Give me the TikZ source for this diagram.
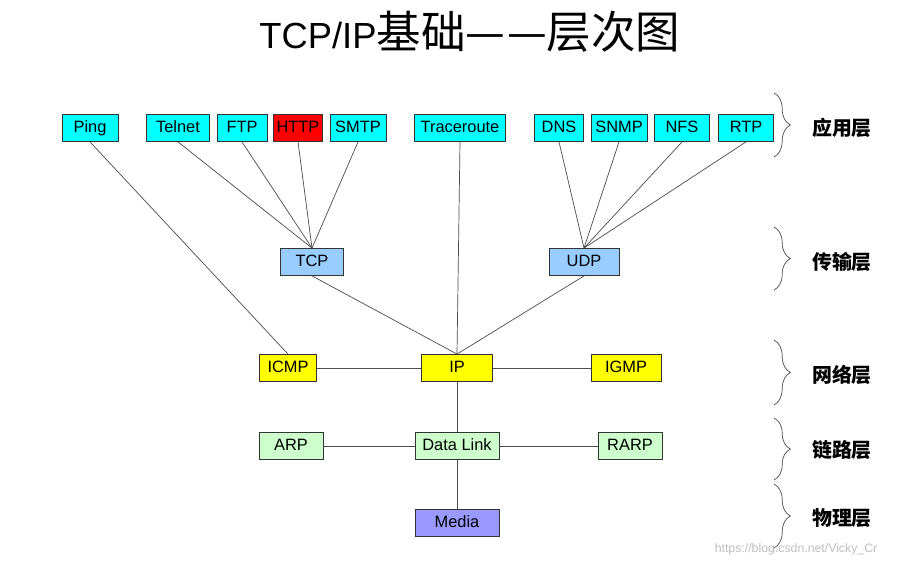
\documentclass[tikz,border=0pt]{standalone}
\usepackage{fontspec}
\setmainfont{Liberation Sans}
\newfontfamily\cjk{Noto Sans CJK SC}
\usetikzlibrary{decorations.pathreplacing}
\definecolor{appcyan}{RGB}{0,255,255}
\definecolor{httpred}{RGB}{255,0,0}
\definecolor{tpblue}{RGB}{153,204,255}
\definecolor{ipyellow}{RGB}{255,255,0}
\definecolor{linkgreen}{RGB}{204,255,204}
\definecolor{mediablue}{RGB}{153,153,255}
\begin{document}
\begin{tikzpicture}[x=0.03cm,y=-0.03cm,
    proto/.style={draw=black!80, line width=0.7pt, inner sep=0pt, minimum height=0.81cm,
      text height=0.72em, text depth=0pt,
      font=\fontsize{14}{16}\selectfont},
    link/.style={draw=black!70, line width=0.6pt},
    layerbrace/.style={draw=black!70, line width=0.6pt, decorate,
      decoration={brace, amplitude=14pt, aspect=0.5}},
    layername/.style={font=\cjk\fontsize{17}{19}\selectfont\bfseries}]
    \useasboundingbox[fill=white] (0,0) rectangle (908,567);
    % title
    \node (title) at (470,32) {\fontsize{31}{34}\selectfont TCP/IP{\cjk\fontsize{38}{40}\selectfont 基础—\kern0.04em—层次图}};

    % application layer
    \node[proto, fill=appcyan, minimum width=1.68cm] (ping) at (90,128) {Ping};
    \node[proto, fill=appcyan, minimum width=1.89cm] (telnet) at (178,128) {Telnet};
    \node[proto, fill=appcyan, minimum width=1.50cm] (ftp) at (242,128) {FTP};
    \node[proto, fill=httpred, minimum width=1.47cm] (http) at (298,128) {HTTP};
    \node[proto, fill=appcyan, minimum width=1.68cm] (smtp) at (358,128) {SMTP};
    \node[proto, fill=appcyan, minimum width=2.73cm] (trace) at (460,128) {Traceroute};
    \node[proto, fill=appcyan, minimum width=1.47cm] (dns) at (559,128) {DNS};
    \node[proto, fill=appcyan, minimum width=1.68cm] (snmp) at (619,128) {SNMP};
    \node[proto, fill=appcyan, minimum width=1.65cm] (nfs) at (682,128) {NFS};
    \node[proto, fill=appcyan, minimum width=1.65cm] (rtp) at (746,128) {RTP};

    % transport layer
    \node[proto, fill=tpblue, minimum width=1.89cm] (tcp) at (312,262) {TCP};
    \node[proto, fill=tpblue, minimum width=2.10cm] (udp) at (584,262) {UDP};

    % network layer
    \node[proto, fill=ipyellow, minimum width=1.71cm] (icmp) at (288,368) {ICMP};
    \node[proto, fill=ipyellow, minimum width=2.13cm] (ip) at (457,368) {IP};
    \node[proto, fill=ipyellow, minimum width=2.10cm] (igmp) at (626,368) {IGMP};

    % link layer
    \node[proto, fill=linkgreen, minimum width=1.92cm] (arp) at (291,446) {ARP};
    \node[proto, fill=linkgreen, minimum width=2.52cm] (dlink) at (457,446) {Data Link};
    \node[proto, fill=linkgreen, minimum width=1.92cm] (rarp) at (630,446) {RARP};

    % physical layer
    \node[proto, fill=mediablue, minimum width=2.52cm] (media) at (457,523) {Media};

    % connections
    \foreach \app in {telnet,ftp,http,smtp}
      \draw[link] (\app.south) -- (tcp.north);
    \foreach \app in {dns,snmp,nfs,rtp}
      \draw[link] (\app.south) -- (udp.north);
    \draw[link] (ping.south) -- (icmp.north);
    \draw[link] (trace.south) -- (ip.north);
    \draw[link] (tcp.south) -- (ip.north);
    \draw[link] (udp.south) -- (ip.north);
    \draw[link] (icmp) -- (ip);
    \draw[link] (ip) -- (igmp);
    \draw[link] (ip) -- (dlink);
    \draw[link] (arp) -- (dlink);
    \draw[link] (dlink) -- (rarp);
    \draw[link] (dlink) -- (media);

    % layer braces
    \draw[layerbrace] (774,93) -- (774,157);
    \node[layername] (lapp) at (842,128) {应用层};
    \draw[layerbrace] (774,227) -- (774,290);
    \node[layername] (ltrans) at (842,262) {传输层};
    \draw[layerbrace] (774,340) -- (774,405);
    \node[layername] (lnet) at (842,375) {网络层};
    \draw[layerbrace] (774,418) -- (774,480);
    \node[layername] (llink) at (842,450) {链路层};
    \draw[layerbrace] (774,484) -- (774,548);
    \node[layername] (lphys) at (842,518) {物理层};

    \node[text=black!25, font=\fontsize{10.5}{12}\selectfont] (mark) at (796,549) {https://blog.csdn.net/Vicky\_Cr};
  \end{tikzpicture}
\end{document}
